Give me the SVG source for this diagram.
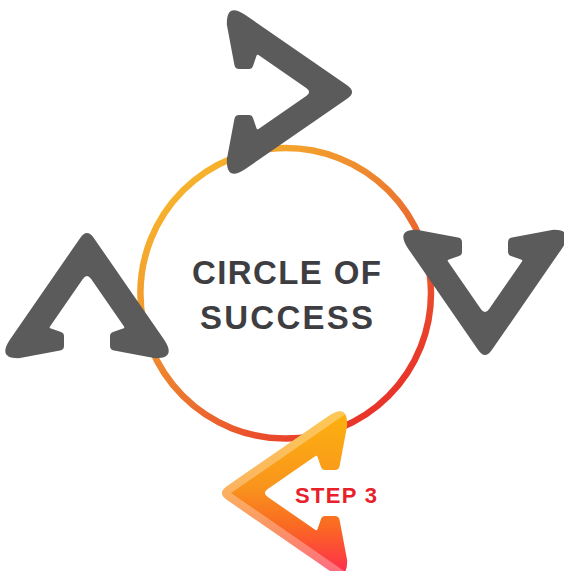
<svg xmlns="http://www.w3.org/2000/svg" xmlns:xlink="http://www.w3.org/1999/xlink" width="564" height="571" viewBox="0 0 564 571">
  <style>
    .gray { fill: #5B5B5B; }
    .title { font-family: "Liberation Sans", Arial, sans-serif; font-weight: bold; font-size: 33px; fill: #3E3E42; }
    .step { font-family: "Liberation Sans", Arial, sans-serif; font-weight: bold; font-size: 22px; fill: #E8202A; }
  </style>
  <defs>
    <path id="arrow" d="M -6.8 4.9 Q 0 -5 6.8 4.9 L 77 106.6 Q 90 126 67 125.1 L 27 117.6 Q 23 116.8 23 113 L 23 103 Q 23 100 26 99 L 36 95.6 Q 38 95 37 93.5 L 4 45.8 Q 0 40 -4 45.8 L -37 93.5 Q -38 95 -36 95.6 L -26 99 Q -23 100 -23 103 L -23 113 Q -23 116.8 -27 117.6 L -67 125.1 Q -90 126 -77 106.6 Z"/>
    <clipPath id="arrowClip">
      <use href="#arrow"/>
    </clipPath>
    <linearGradient id="ringGrad" x1="0.15" y1="0.1" x2="0.85" y2="0.9">
      <stop offset="0" stop-color="#F7B52C"/>
      <stop offset="0.5" stop-color="#EC7A2F"/>
      <stop offset="1" stop-color="#E8302A"/>
    </linearGradient>
    <linearGradient id="stepGrad" x1="1" y1="0" x2="0" y2="0">
      <stop offset="0" stop-color="#FDB20F"/>
      <stop offset="0.45" stop-color="#F9961C"/>
      <stop offset="0.7" stop-color="#FA6A22"/>
      <stop offset="1" stop-color="#FF2A4E"/>
    </linearGradient>
  </defs>

  <g id="ring">
    <circle cx="285.7" cy="293.3" r="145.3" fill="none" stroke="url(#ringGrad)" stroke-width="6.5"/>
  </g>

  <g id="title">
    <text class="title" x="286.5" y="284" text-anchor="middle" textLength="189" lengthAdjust="spacing">CIRCLE OF</text>
    <text class="title" x="286.5" y="329" text-anchor="middle" textLength="173" lengthAdjust="spacing">SUCCESS</text>
  </g>

  <g id="connectors">
    <g id="arrow-up" transform="translate(87 233)">
      <use href="#arrow" class="gray"/>
    </g>
    <g id="arrow-right" transform="translate(352 92) rotate(90)">
      <use href="#arrow" class="gray"/>
    </g>
    <g id="arrow-down" transform="translate(485 355) rotate(180)">
      <use href="#arrow" class="gray"/>
    </g>
    <g id="arrow-left" transform="translate(222 493) rotate(-90)">
      <use href="#arrow" fill="url(#stepGrad)"/>
      <g clip-path="url(#arrowClip)">
        <polygon points="0,-15 100,130 100,154 0,9 -100,154 -100,130" fill="#FFFFFF" fill-opacity="0.3"/>
      </g>
    </g>
  </g>

  <g id="step3">
    <text class="step" x="336" y="503" text-anchor="middle" textLength="82" lengthAdjust="spacing">STEP 3</text>
  </g>
</svg>
